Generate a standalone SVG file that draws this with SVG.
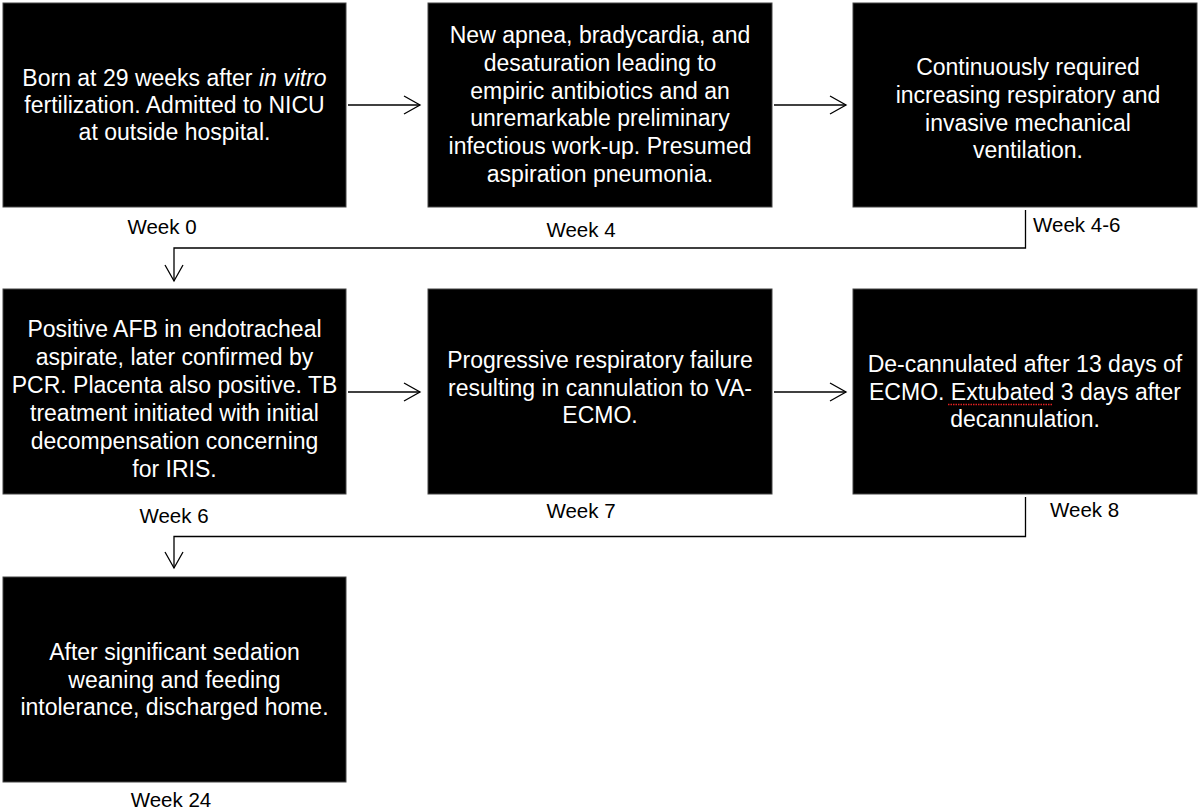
<svg xmlns="http://www.w3.org/2000/svg" width="1200" height="812" viewBox="0 0 1200 812">
  <style>
    .box { fill: #000; stroke: #444; stroke-width: 1; }
    .bt { font-family: "Liberation Sans", Arial, sans-serif; font-size: 23px; fill: #fff; text-anchor: middle; }
    .wk { font-family: "Liberation Sans", Arial, sans-serif; font-size: 20.5px; fill: #000; }
    .conn { fill: none; stroke: #000; stroke-width: 1.3; }
  </style>
  <defs>
    <marker id="arr" markerUnits="userSpaceOnUse" viewBox="-18 -11 20 22" markerWidth="20" markerHeight="22" refX="0" refY="0" orient="auto">
      <path d="M -16 -9 L 0 0 L -16 9" fill="none" stroke="#000" stroke-width="1.3"/>
    </marker>
  </defs>
  <rect width="1200" height="812" fill="#fff"/>

  <g id="connectors">
    <line class="conn" x1="348" y1="105" x2="420" y2="105" marker-end="url(#arr)"/>
    <line class="conn" x1="774" y1="105" x2="846" y2="105" marker-end="url(#arr)"/>
    <polyline class="conn" points="1025.5,210 1025.5,248 174,248 174,281" marker-end="url(#arr)"/>
    <line class="conn" x1="348" y1="392" x2="420" y2="392" marker-end="url(#arr)"/>
    <line class="conn" x1="774" y1="392" x2="846" y2="392" marker-end="url(#arr)"/>
    <polyline class="conn" points="1025.5,497 1025.5,536.5 174,536.5 174,568" marker-end="url(#arr)"/>
  </g>

  <g id="node1">
    <rect class="box" x="3" y="3" width="343" height="204"/>
    <text class="bt" x="174.5" y="86">Born at 29 weeks after <tspan font-style="italic">in vitro</tspan></text>
    <text class="bt" x="174.5" y="113">fertilization. Admitted to NICU</text>
    <text class="bt" x="174.5" y="140">at outside hospital.</text>
    <text class="wk" x="162" y="234" text-anchor="middle">Week 0</text>
  </g>

  <g id="node2">
    <rect class="box" x="428" y="3" width="344" height="204"/>
    <text class="bt" x="600" y="43">New apnea, bradycardia, and</text>
    <text class="bt" x="600" y="70.8">desaturation leading to</text>
    <text class="bt" x="600" y="98.6">empiric antibiotics and an</text>
    <text class="bt" x="600" y="126.4">unremarkable preliminary</text>
    <text class="bt" x="600" y="154.2">infectious work-up. Presumed</text>
    <text class="bt" x="600" y="182">aspiration pneumonia.</text>
    <text class="wk" x="581" y="237" text-anchor="middle">Week 4</text>
  </g>

  <g id="node3">
    <rect class="box" x="853" y="3" width="344" height="204"/>
    <text class="bt" x="1028" y="75">Continuously required</text>
    <text class="bt" x="1028" y="103">increasing respiratory  and</text>
    <text class="bt" x="1028" y="130.5">invasive mechanical</text>
    <text class="bt" x="1028" y="158">ventilation.</text>
    <text class="wk" x="1033" y="232">Week 4-6</text>
  </g>

  <g id="node4">
    <rect class="box" x="3" y="289" width="343" height="205"/>
    <text class="bt" x="174.5" y="337">Positive AFB in endotracheal</text>
    <text class="bt" x="174.5" y="365">aspirate, later confirmed by</text>
    <text class="bt" x="174.5" y="393">PCR. Placenta also positive. TB</text>
    <text class="bt" x="174.5" y="421">treatment initiated with initial</text>
    <text class="bt" x="174.5" y="449">decompensation concerning</text>
    <text class="bt" x="174.5" y="477">for IRIS.</text>
    <text class="wk" x="174" y="523" text-anchor="middle">Week 6</text>
  </g>

  <g id="node5">
    <rect class="box" x="428" y="289" width="344" height="205"/>
    <text class="bt" x="600" y="368">Progressive respiratory failure</text>
    <text class="bt" x="600" y="395.5">resulting in cannulation to VA-</text>
    <text class="bt" x="600" y="423">ECMO.</text>
    <text class="wk" x="581" y="518" text-anchor="middle">Week 7</text>
  </g>

  <g id="node6">
    <rect class="box" x="853" y="289" width="344" height="205"/>
    <text class="bt" x="1025" y="372">De-cannulated after 13 days of</text>
    <text class="bt" x="1025" y="400">ECMO. Extubated 3 days after</text>
    <text class="bt" x="1025" y="427">decannulation.</text>
    <line x1="948" y1="404.5" x2="1053" y2="404.5" stroke="#e02020" stroke-width="1.3" stroke-dasharray="1.5,1"/>
    <text class="wk" x="1050" y="517">Week 8</text>
  </g>

  <g id="node7">
    <rect class="box" x="3" y="577" width="343" height="205"/>
    <text class="bt" x="174.5" y="660">After significant sedation</text>
    <text class="bt" x="174.5" y="688">weaning and feeding</text>
    <text class="bt" x="174.5" y="715">intolerance, discharged home.</text>
    <text class="wk" x="171" y="807" text-anchor="middle">Week 24</text>
  </g>
</svg>
